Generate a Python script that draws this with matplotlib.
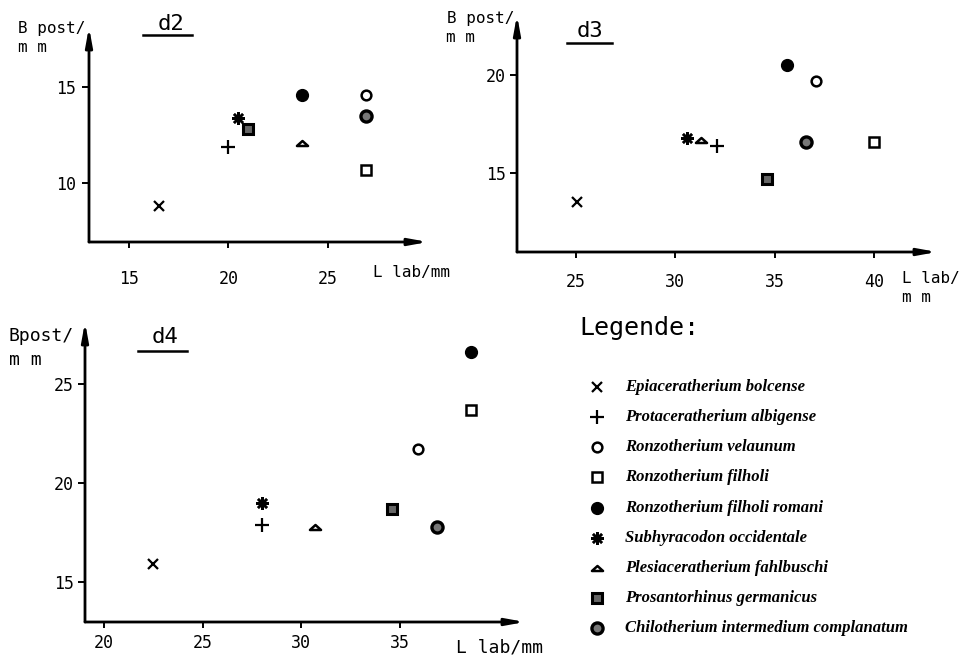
import numpy as np
import matplotlib.pyplot as plt
from matplotlib.path import Path

# species in legend order
species = ["Epiaceratherium bolcense",
           "Protaceratherium albigense",
           "Ronzotherium velaunum",
           "Ronzotherium filholi",
           "Ronzotherium filholi romani",
           "Subhyracodon occidentale",
           "Plesiaceratherium fahlbuschi",
           "Prosantorhinus germanicus",
           "Chilotherium intermedium complanatum"]

# L lab / B post per tooth (mm)
d2_llab = [16.5, 20.0, 26.9, 26.9, 23.7, 20.5, 23.7, 21.0, 26.9]
d2_bpost = [8.8, 11.9, 14.6, 10.7, 14.6, 13.4, 12.1, 12.8, 13.5]
d3_llab = [25.05, 32.1, 37.1, 40.0, 35.6, 30.6, 31.3, 34.6, 36.6]
d3_bpost = [13.5, 16.4, 19.7, 16.6, 20.5, 16.8, 16.7, 14.7, 16.6]
d4_llab = [22.5, 28.0, 35.9, 38.6, 38.6, 28.0, 30.7, 34.6, 36.9]
d4_bpost = [15.9, 17.9, 21.7, 23.7, 26.6, 19.0, 17.8, 18.7, 17.8]

d2_xticks = [15, 20, 25]
d2_yticks = [10, 15]
d3_xticks = [25, 30, 35, 40]
d3_yticks = [15, 20]
d4_xticks = [20, 25, 30, 35]
d4_yticks = [15, 20, 25]

MONO = 'DejaVu Sans Mono'

tri = Path([(-1, -0.45), (1, -0.45), (0, 0.45), (-1, -0.45)],
           [Path.MOVETO, Path.LINETO, Path.LINETO, Path.CLOSEPOLY])

styles = [dict(marker='x', ms=7.5, mew=1.6, color='black'),
          dict(marker='+', ms=9.5, mew=1.6, color='black'),
          dict(marker='o', ms=7, mew=1.8, mfc='white', mec='black'),
          dict(marker='s', ms=6.5, mew=1.8, mfc='white', mec='black'),
          dict(marker='o', ms=8.5, mew=1, mfc='black', mec='black'),
          dict(marker=(8, 2, 0), ms=9, mew=1.8, color='black'),
          dict(marker=tri, ms=8, mew=1.8, mfc='white', mec='black'),
          dict(marker='s', ms=7.5, mew=2.2, mfc='#666666', mec='black'),
          dict(marker='o', ms=8, mew=2.4, mfc='#777777', mec='black')]

W, H = 966, 659
fig = plt.figure(figsize=(W / 100, H / 100), dpi=100)


def px_axes(x0, y0, x1, y1):
    return fig.add_axes([x0 / W, 1 - y1 / H, (x1 - x0) / W, (y1 - y0) / H])


def ftext(x, y, s, **kw):
    fig.text(x / W, 1 - y / H, s, **kw)


def panel(box, xlim, ylim, llab, bpost, xticks, yticks, xpad, ypad):
    ax = px_axes(*box)
    for sp in ax.spines.values():
        sp.set_visible(False)
    ax.set_xlim(xlim)
    ax.set_ylim(ylim)
    ax.set_xticks(xticks)
    ax.set_yticks(yticks)
    ax.tick_params(axis='x', direction='out', length=4, width=1.4, labelsize=12, pad=xpad)
    ax.tick_params(axis='y', direction='out', length=5, width=1.4, labelsize=12, pad=ypad)
    for t in ax.get_xticklabels() + ax.get_yticklabels():
        t.set_family(MONO)
    arrow = dict(arrowstyle='-|>,head_length=1.1,head_width=0.2', lw=2,
                 color='black', shrinkA=0, shrinkB=0)
    ax.annotate('', xy=(1, 0), xytext=(0, 0), xycoords='axes fraction', arrowprops=arrow)
    ax.annotate('', xy=(0, 1), xytext=(0, 0), xycoords='axes fraction', arrowprops=arrow)
    ax.patch.set_visible(False)
    for i in range(len(species)):
        ax.plot(llab[i], bpost[i], ls='none', clip_on=False, **styles[i])
    return ax


panel((89, 27, 428, 242), (12.99, 30.03), (6.93, 18.13),
      d2_llab, d2_bpost, d2_xticks, d2_yticks, 16, 4)
panel((517, 15, 937, 252), (22.03, 43.17), (10.97, 23.06),
      d3_llab, d3_bpost, d3_xticks, d3_yticks, 11, 3)
panel((85, 322, 525, 622), (19.04, 41.34), (12.98, 28.13),
      d4_llab, d4_bpost, d4_xticks, d4_yticks, 5, 3)

# axis titles
lab = dict(fontsize=11.5, family=MONO, va='center')
ftext(18, 28, "B post/", ha='left', **lab)
ftext(18, 48, "m m", ha='left', **lab)
ftext(373, 273, "L lab/mm", ha='left', **lab)
ftext(514, 19, "B post/", ha='right', **lab)
ftext(446, 37, "m m", ha='left', **lab)
ftext(902, 278, "L lab/", ha='left', **lab)
ftext(902, 298, "m m", ha='left', **lab)
lab4 = dict(fontsize=13, family=MONO, va='center', ha='left')
ftext(9, 336, "Bpost/", **lab4)
ftext(9, 360, "m m", **lab4)
ftext(456, 648, "L lab/mm", **lab4)

# panel names with underline
for name, cx, by, ux0, ux1, uy in [("d2", 171, 30, 143, 192, 35),
                                   ("d3", 590, 37, 567, 612, 43),
                                   ("d4", 165, 343, 138, 187, 351)]:
    ftext(cx, by, name, fontsize=16, family=MONO, ha='center', va='baseline')
    fig.add_artist(plt.Line2D([ux0 / W, ux1 / W], [1 - uy / H, 1 - uy / H],
                              color='black', lw=1.8))

# legend
ftext(579, 328, "Legende:", fontsize=18, family=MONO, ha='left', va='center')
lax = px_axes(580, 372, 960, 643)
lax.axis('off')
lax.set_xlim(0, 380)
lax.set_ylim(len(species) - 0.5, -0.5)
for i, name in enumerate(species):
    lax.plot(17, i, ls='none', clip_on=False, **styles[i])
    lax.text(45, i, name, fontsize=12, family='Liberation Serif', style='italic',
             weight='bold', ha='left', va='center')

fig.savefig("out.png", dpi=100)
